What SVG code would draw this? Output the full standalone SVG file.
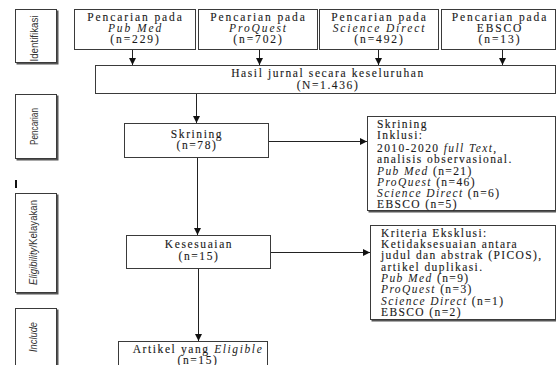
<svg xmlns="http://www.w3.org/2000/svg" width="556" height="365" viewBox="0 0 556 365">
<style>
.bx{fill:#fff;stroke:#3a3a3a;stroke-width:1}
.sh{fill:#555}
.t{font-family:"Liberation Serif","Times New Roman",serif;font-size:11.5px;letter-spacing:1.9px;fill:#1a1a1a;stroke:#1a1a1a;stroke-width:0.12px}
.l{letter-spacing:1.4px}
.h{letter-spacing:1.6px}
.m{text-anchor:middle}
.i{font-style:italic;stroke-width:0}
.lb{font-family:"Liberation Sans",Arial,sans-serif;font-size:11.5px;fill:#333;text-anchor:middle}
.ln{stroke:#222;stroke-width:1;fill:none}
</style>
<defs>
<marker id="ah" viewBox="0 0 8 8" refX="8" refY="4" markerWidth="7" markerHeight="7" markerUnits="userSpaceOnUse" orient="auto">
<path d="M0,0L8,4L0,8z" fill="#111"/>
</marker>
</defs>
<rect width="556" height="365" fill="#fff"/>

<g id="label-identifikasi">
<rect class="sh" x="16.5" y="10.5" width="42" height="54"/>
<rect class="bx" x="15.5" y="9.5" width="41" height="53"/>
<text class="lb" transform="translate(37.5,38.5) rotate(-90)" textLength="46" lengthAdjust="spacingAndGlyphs">Identifikasi</text>
</g>
<g id="label-pencarian">
<rect class="sh" x="16.5" y="95.5" width="42" height="65"/>
<rect class="bx" x="15.5" y="94.5" width="41" height="64"/>
<text class="lb" transform="translate(37.5,126.5) rotate(-90)" textLength="37" lengthAdjust="spacingAndGlyphs">Pencarian</text>
</g>
<rect id="mark" x="15" y="180" width="2" height="8" fill="#111"/>
<g id="label-eligibility">
<rect class="sh" x="16.5" y="194.5" width="42" height="100"/>
<rect class="bx" x="15.5" y="193.5" width="41" height="99"/>
<text class="lb" transform="translate(36.5,242.5) rotate(-90)" textLength="85" lengthAdjust="spacingAndGlyphs"><tspan class="i">Eligibility</tspan>/Kelayakan</text>
</g>
<g id="label-include">
<rect class="sh" x="16.5" y="309.5" width="42" height="60"/>
<rect class="bx" x="15.5" y="308.5" width="41" height="60"/>
<text class="lb i" transform="translate(36.5,337) rotate(-90)" textLength="30" lengthAdjust="spacingAndGlyphs">Include</text>
</g>

<g id="pubmed">
<rect class="bx" x="74.5" y="9.5" width="121" height="40"/>
<text class="t m" x="135.5" y="21">Pencarian pada</text>
<text class="t m i" x="135.5" y="31.5">Pub Med</text>
<text class="t m" x="135.5" y="43">(n=229)</text>
</g>
<g id="proquest">
<rect class="bx" x="198.5" y="9.5" width="119" height="40"/>
<text class="t m" x="258.5" y="21">Pencarian pada</text>
<text class="t m i" x="258.5" y="31.5">ProQuest</text>
<text class="t m" x="258.5" y="43">(n=702)</text>
</g>
<g id="sciencedirect">
<rect class="bx" x="319.5" y="9.5" width="119" height="40"/>
<text class="t m" x="379.5" y="21">Pencarian pada</text>
<text class="t m i" x="379.5" y="31.5">Science Direct</text>
<text class="t m" x="379.5" y="43">(n=492)</text>
</g>
<g id="ebsco">
<rect class="bx" x="441.5" y="9.5" width="114" height="40"/>
<text class="t m" x="500" y="21">Pencarian pada</text>
<text class="t m" x="500" y="31.5">EBSCO</text>
<text class="t m" x="500" y="43">(n=13)</text>
</g>
<g id="hasil">
<rect class="bx" x="95.5" y="65.5" width="460" height="28"/>
<text class="t m h" x="328" y="77">Hasil jurnal secara keseluruhan</text>
<text class="t m h" x="328" y="88.5">(N=1.436)</text>
</g>
<g id="skrining">
<rect class="bx" x="124.5" y="123.5" width="144" height="34"/>
<text class="t m h" x="197" y="138">Skrining</text>
<text class="t m h" x="197" y="149">(n=78)</text>
</g>
<g id="inklusi">
<rect class="sh" x="368.5" y="117.5" width="189" height="95"/>
<rect class="bx" x="367.5" y="116.5" width="188" height="94"/>
<text class="t l" x="377" y="128">Skrining</text>
<text class="t l" x="377" y="139">Inklusi:</text>
<text class="t l" x="377" y="152">2010-2020 <tspan class="i">full Text</tspan>,</text>
<text class="t l" x="377" y="163">analisis observasional.</text>
<text class="t l" x="377" y="175"><tspan class="i">Pub Med</tspan> (n=21)</text>
<text class="t l" x="377" y="186"><tspan class="i">ProQuest</tspan> (n=46)</text>
<text class="t l" x="377" y="197"><tspan class="i">Science Direct</tspan> (n=6)</text>
<text class="t l" x="377" y="208">EBSCO (n=5)</text>
</g>
<g id="kesesuaian">
<rect class="bx" x="126.5" y="235.5" width="144" height="33"/>
<text class="t m h" x="199" y="248">Kesesuaian</text>
<text class="t m h" x="199" y="260">(n=15)</text>
</g>
<g id="kriteria">
<rect class="sh" x="371.5" y="226.5" width="186" height="95"/>
<rect class="bx" x="370.5" y="225.5" width="185" height="94"/>
<text class="t l" x="381" y="237">Kriteria Eksklusi:</text>
<text class="t l" x="381" y="248">Ketidaksesuaian antara</text>
<text class="t l" x="381" y="259">judul dan abstrak (PICOS),</text>
<text class="t l" x="381" y="271">artikel duplikasi.</text>
<text class="t l" x="381" y="282"><tspan class="i">Pub Med</tspan> (n=9)</text>
<text class="t l" x="381" y="293"><tspan class="i">ProQuest</tspan> (n=3)</text>
<text class="t l" x="381" y="305"><tspan class="i">Science Direct</tspan> (n=1)</text>
<text class="t l" x="381" y="316">EBSCO (n=2)</text>
</g>
<g id="artikel">
<rect class="bx" x="118.5" y="341.5" width="149" height="30"/>
<text class="t m h" x="198" y="352.5">Artikel yang <tspan class="i">Eligible</tspan></text>
<text class="t m h" x="198" y="364">(n=15)</text>
</g>

<g id="connectors">
<line class="ln" x1="132.5" y1="50" x2="132.5" y2="65" marker-end="url(#ah)"/>
<line class="ln" x1="259.5" y1="50" x2="259.5" y2="65" marker-end="url(#ah)"/>
<line class="ln" x1="378.5" y1="50" x2="378.5" y2="65" marker-end="url(#ah)"/>
<line class="ln" x1="502.5" y1="50" x2="502.5" y2="65" marker-end="url(#ah)"/>
<line class="ln" x1="196.5" y1="94" x2="196.5" y2="123" marker-end="url(#ah)"/>
<line class="ln" x1="269" y1="141.5" x2="367" y2="141.5" marker-end="url(#ah)"/>
<line class="ln" x1="197.5" y1="158" x2="197.5" y2="235" marker-end="url(#ah)"/>
<line class="ln" x1="271" y1="252.5" x2="370" y2="252.5" marker-end="url(#ah)"/>
<line class="ln" x1="198.5" y1="269" x2="198.5" y2="341" marker-end="url(#ah)"/>
</g>
</svg>
